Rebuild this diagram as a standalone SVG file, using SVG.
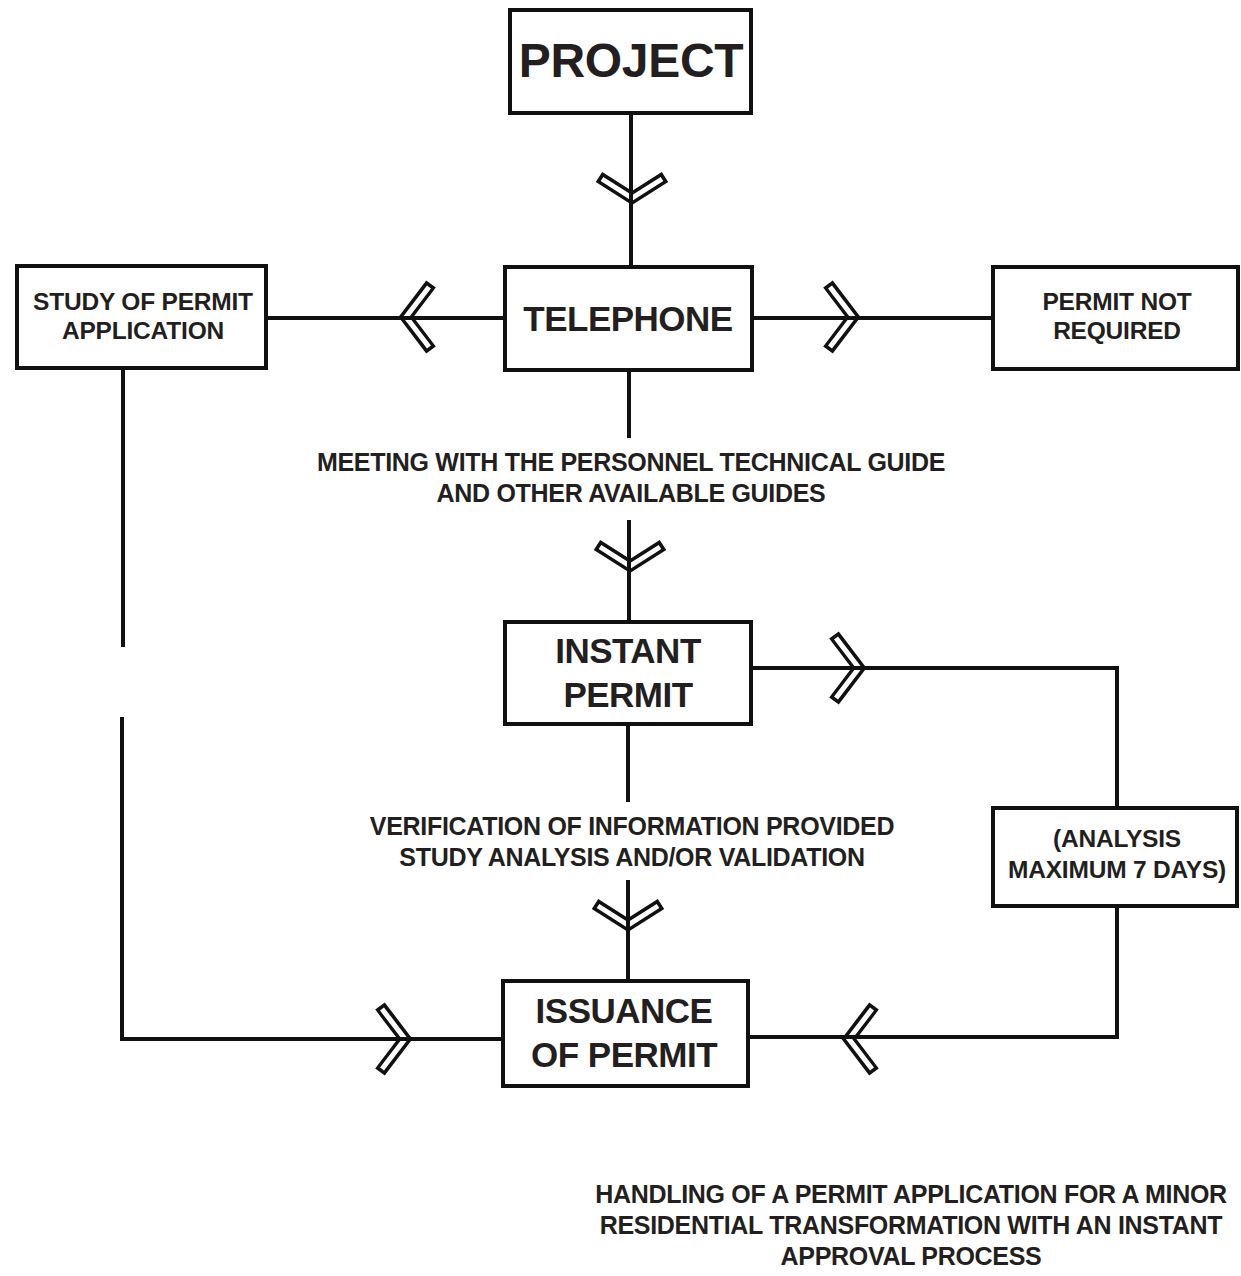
<svg xmlns="http://www.w3.org/2000/svg" xmlns:xlink="http://www.w3.org/1999/xlink" width="1241" height="1276" viewBox="0 0 1241 1276">
<style>
.box{fill:#fff;stroke:#111;stroke-width:4}
.ln{fill:none;stroke:#111;stroke-width:4}
.t{font-family:"Liberation Sans",Arial,sans-serif;font-weight:bold;fill:#231f20;text-anchor:middle}
.big{font-size:35px;letter-spacing:-0.5px}
.sm{font-size:24.5px;letter-spacing:-0.2px}
.lab{font-size:25px;letter-spacing:-0.3px}
.co{fill:none;stroke:#111;stroke-width:12;stroke-linejoin:miter}
.ci{fill:none;stroke:#fff;stroke-width:5;stroke-linejoin:miter}
</style>
<defs>
<g id="chevD"><path class="co" d="M-33,-21 L0,0 L33,-21"/><path class="ci" d="M-30,-19 L0,0 L30,-19"/></g>
<g id="chevR"><path class="co" d="M-25,-33 L0,0 L-25,33"/><path class="ci" d="M-23,-30 L0,0 L-23,30"/></g>
</defs>
<rect width="1241" height="1276" fill="#fff"/>
<g id="arrowheads">
<use xlink:href="#chevD" transform="translate(632,198)"/>
<use xlink:href="#chevR" transform="translate(406,317) scale(-1,1)"/>
<use xlink:href="#chevR" transform="translate(853,317)"/>
<use xlink:href="#chevD" transform="translate(630,566)"/>
<use xlink:href="#chevR" transform="translate(859,668)"/>
<use xlink:href="#chevD" transform="translate(628,925)"/>
<use xlink:href="#chevR" transform="translate(405,1039)"/>
<use xlink:href="#chevR" transform="translate(849,1039) scale(-1,1)"/>
</g>
<g id="connectors">
<line class="ln" x1="631" y1="113" x2="631" y2="266"/>
<line class="ln" x1="266" y1="318" x2="505" y2="318"/>
<line class="ln" x1="752" y1="318" x2="993" y2="318"/>
<line class="ln" x1="629" y1="370" x2="629" y2="438"/>
<line class="ln" x1="629" y1="520" x2="629" y2="622"/>
<line class="ln" x1="123" y1="367" x2="123" y2="647"/>
<line class="ln" x1="122" y1="717" x2="122" y2="1039"/>
<line class="ln" x1="120" y1="1039" x2="502" y2="1039"/>
<polyline class="ln" points="751,668 1117,668 1117,808"/>
<polyline class="ln" points="1117,906 1117,1037 748,1037"/>
<line class="ln" x1="628" y1="724" x2="628" y2="802"/>
<line class="ln" x1="628" y1="880" x2="628" y2="980"/>
</g>
<g id="project">
<rect class="box" x="510" y="10" width="241" height="103"/>
<text class="t" x="631" y="77" style="font-size:48px;letter-spacing:-0.3px">PROJECT</text>
</g>
<g id="telephone">
<rect class="box" x="505" y="267" width="247" height="103"/>
<text class="t big" x="628" y="331">TELEPHONE</text>
</g>
<g id="study">
<rect class="box" x="17" y="266" width="249" height="102"/>
<text class="t sm" x="143" y="310">STUDY OF PERMIT</text>
<text class="t sm" x="143" y="339">APPLICATION</text>
</g>
<g id="notrequired">
<rect class="box" x="993" y="267" width="245" height="102"/>
<text class="t sm" x="1117" y="310">PERMIT NOT</text>
<text class="t sm" x="1117" y="339">REQUIRED</text>
</g>
<g id="meeting">
<text class="t lab" x="631" y="471">MEETING WITH THE PERSONNEL TECHNICAL GUIDE</text>
<text class="t lab" x="631" y="502">AND OTHER AVAILABLE GUIDES</text>
</g>
<g id="instant">
<rect class="box" x="505" y="622" width="246" height="102"/>
<text class="t big" x="628" y="663">INSTANT</text>
<text class="t big" x="628" y="707">PERMIT</text>
</g>
<g id="verification">
<text class="t lab" x="632" y="835">VERIFICATION OF INFORMATION PROVIDED</text>
<text class="t lab" x="632" y="866">STUDY ANALYSIS AND/OR VALIDATION</text>
</g>
<g id="analysis">
<rect class="box" x="993" y="808" width="244" height="98"/>
<text class="t sm" x="1117" y="847">(ANALYSIS</text>
<text class="t sm" x="1117" y="878">MAXIMUM 7 DAYS)</text>
</g>
<g id="issuance">
<rect class="box" x="503" y="981" width="245" height="105"/>
<text class="t big" x="624" y="1023">ISSUANCE</text>
<text class="t big" x="624" y="1067">OF PERMIT</text>
</g>
<g id="caption">
<text class="t lab" x="911" y="1203">HANDLING OF A PERMIT APPLICATION FOR A MINOR</text>
<text class="t lab" x="911" y="1234">RESIDENTIAL TRANSFORMATION WITH AN INSTANT</text>
<text class="t lab" x="911" y="1265">APPROVAL PROCESS</text>
</g>
</svg>
